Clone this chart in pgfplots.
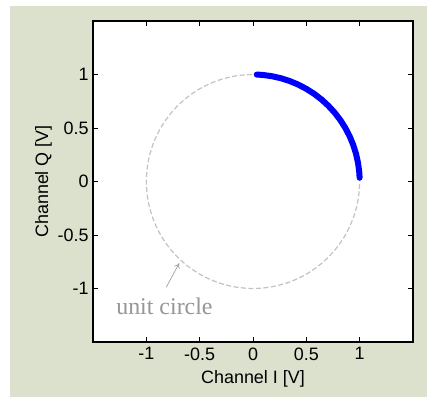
\documentclass[border=0pt]{standalone}
\usepackage{fontspec}
\setmainfont{Liberation Sans}
\newfontfamily\serifA{Liberation Serif}
\usepackage{pgfplots}
\pgfplotsset{compat=1.18}
\usetikzlibrary{arrows.meta}
\definecolor{bgc}{RGB}{219,225,205}
\definecolor{circgray}{RGB}{195,195,195}
\definecolor{txtgray}{RGB}{150,150,150}
\begin{document}
\begin{tikzpicture}
\fill[white] (-93bp,-56bp) rectangle (334bp,342bp);
\fill[bgc] (-83bp,-55bp) rectangle (334bp,336bp);
\begin{axis}[at={(0,0)}, anchor=south west, scale only axis,
  width=320bp, height=321bp,
  xmin=-1.5, xmax=1.5, ymin=-1.5, ymax=1.5,
  axis background/.style={fill=white},
  axis line style={line width=1.6bp},
  tick style={line width=0.9bp, black},
  major tick length=5bp,
  tick align=inside,
  xtick={-1,-0.5,0,0.5,1}, ytick={-1,-0.5,0,0.5,1},
  xticklabels={-1,-0.5,0,0.5,1}, yticklabels={-1,-0.5,0,0.5,1},
  ticklabel style={font=\fontsize{18}{21}\selectfont},
  label style={font=\fontsize{18}{21}\selectfont},
  xticklabel style={yshift=-2bp},
  yticklabel style={xshift=-1bp},
  xlabel={Channel I [V]}, ylabel={Channel Q [V]},
  xlabel style={yshift=-3bp},
  ylabel style={yshift=-1bp},
  clip=false]
\addplot[circgray, line width=1.2bp, dash pattern=on 5bp off 2.5bp, smooth cycle, no markers] coordinates {
(1,0) (0.9848,0.1736) (0.9397,0.3420) (0.8660,0.5) (0.7660,0.6428) (0.6428,0.7660)
(0.5,0.8660) (0.3420,0.9397) (0.1736,0.9848) (0,1) (-0.1736,0.9848) (-0.3420,0.9397)
(-0.5,0.8660) (-0.6428,0.7660) (-0.7660,0.6428) (-0.8660,0.5) (-0.9397,0.3420) (-0.9848,0.1736)
(-1,0) (-0.9848,-0.1736) (-0.9397,-0.3420) (-0.8660,-0.5) (-0.7660,-0.6428) (-0.6428,-0.7660)
(-0.5,-0.8660) (-0.3420,-0.9397) (-0.1736,-0.9848) (0,-1) (0.1736,-0.9848) (0.3420,-0.9397)
(0.5,-0.8660) (0.6428,-0.7660) (0.7660,-0.6428) (0.8660,-0.5) (0.9397,-0.3420) (0.9848,-0.1736)
};
\addplot[blue, line width=6bp, line cap=round, line join=round, no markers] coordinates {
(0.9994,0.0349) (0.9962,0.0872) (0.9848,0.1736) (0.9659,0.2588) (0.9397,0.3420)
(0.9063,0.4226) (0.8660,0.5) (0.8192,0.5736) (0.7660,0.6428) (0.7071,0.7071)
(0.6428,0.7660) (0.5736,0.8192) (0.5,0.8660) (0.4226,0.9063) (0.3420,0.9397)
(0.2588,0.9659) (0.1736,0.9848) (0.0872,0.9962) (0.0349,0.9994)
};
\node[txtgray, anchor=base, font=\serifA\fontsize{24}{27}\selectfont] at (axis cs:-0.83,-1.245) {unit circle};
\draw[txtgray, line width=0.6bp, -{To[length=5bp,width=6bp]}] (axis cs:-0.813,-0.988) -- (axis cs:-0.692,-0.764);
\end{axis}
\pgfresetboundingbox
\path[use as bounding box] (-93bp,-56bp) rectangle (334bp,342bp);
\end{tikzpicture}
\end{document}
